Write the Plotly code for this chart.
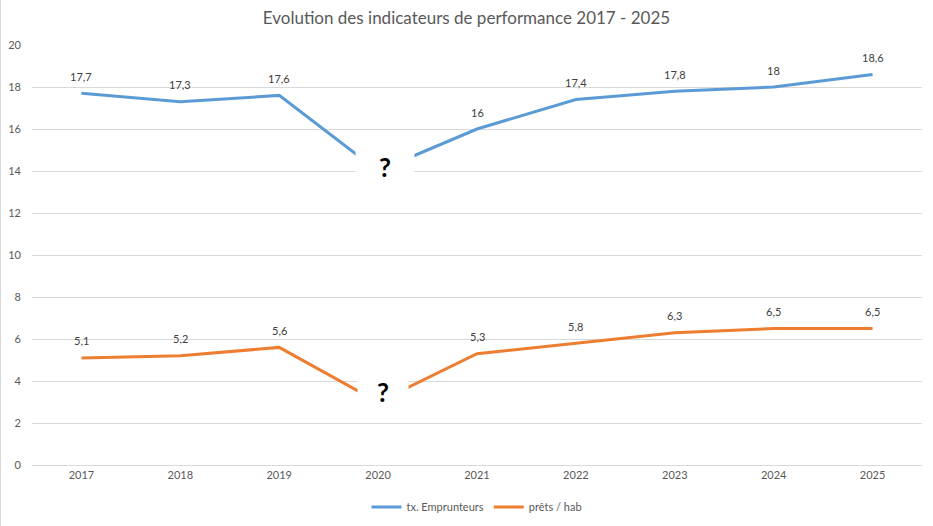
import plotly.graph_objects as go

years = [2017, 2018, 2019, 2020, 2021, 2022, 2023, 2024, 2025]
emprunteurs = [17.7, 17.3, 17.6, 14.0, 16.0, 17.4, 17.8, 18.0, 18.6]
prets = [5.1, 5.2, 5.6, 3.0, 5.3, 5.8, 6.3, 6.5, 6.5]
hidden_year = 2020
y_ticks = [0, 2, 4, 6, 8, 10, 12, 14, 16, 18, 20]

BLUE = "#5B9BD5"
ORANGE = "#ED7D31"
TXT = "#595959"
GRID = "#D9D9D9"
FONT = "Lato"

def fr(v):
    return ("%g" % v).replace(".", ",")

fig = go.Figure()
fig.add_trace(go.Scatter(x=years, y=emprunteurs, mode="lines", name="tx. Emprunteurs",
                         line=dict(color=BLUE, width=3)))
fig.add_trace(go.Scatter(x=years, y=prets, mode="lines", name="prêts / hab",
                         line=dict(color=ORANGE, width=3)))

annotations = []
for series in (emprunteurs, prets):
    for yr, v in zip(years, series):
        if yr == hidden_year:
            continue
        annotations.append(dict(x=yr, y=v, xref="x", yref="y", text=fr(v), showarrow=False,
                                yshift=17, font=dict(family=FONT, size=11, color="#404040")))

hi = years.index(hidden_year)
annotations.append(dict(x=hidden_year, y=emprunteurs[hi], xref="x", yref="y", text="<b>?</b>",
                        showarrow=False, xshift=7, yshift=4, width=56, height=38, bgcolor="white",
                        font=dict(family=FONT, size=26, color="black")))
annotations.append(dict(x=hidden_year, y=prets[hi], xref="x", yref="y", text="<b>?</b>",
                        showarrow=False, xshift=5, yshift=10, width=48, height=38, bgcolor="white",
                        font=dict(family=FONT, size=26, color="black")))

fig.update_layout(
    width=933, height=526,
    margin=dict(l=32, r=11, t=45, b=61, autoexpand=False),
    paper_bgcolor="white", plot_bgcolor="white",
    title=dict(text="Evolution des indicateurs de performance 2017 - 2025",
               x=0.5, xanchor="center", y=1 - 18 / 526, yanchor="middle",
               font=dict(family=FONT, size=17, color=TXT)),
    font=dict(family=FONT, size=11, color=TXT),
    xaxis=dict(range=[years[0] - 0.5, years[-1] + 0.5], tickvals=years, showgrid=False,
               showline=True, linecolor=GRID, linewidth=1, ticks="",
               tickfont=dict(size=11, color=TXT), zeroline=False),
    yaxis=dict(range=[0, 20], tickvals=y_ticks, showgrid=True, gridcolor=GRID, gridwidth=1,
               zeroline=False, showline=False, ticks="", ticklabelstandoff=10,
               tickfont=dict(size=11, color=TXT)),
    legend=dict(orientation="h", x=0.5, xanchor="center", y=-(507 - 465) / 420, yanchor="middle",
                font=dict(family=FONT, size=11, color=TXT), itemwidth=30),
    showlegend=True,
    annotations=annotations,
    shapes=[dict(type="line", xref="paper", yref="paper",
                 x0=(0.5 - 32) / 890, x1=(0.5 - 32) / 890,
                 y0=-61 / 420, y1=(420 + 45) / 420,
                 line=dict(color=GRID, width=1))],
)

fig.write_html("out.html")
